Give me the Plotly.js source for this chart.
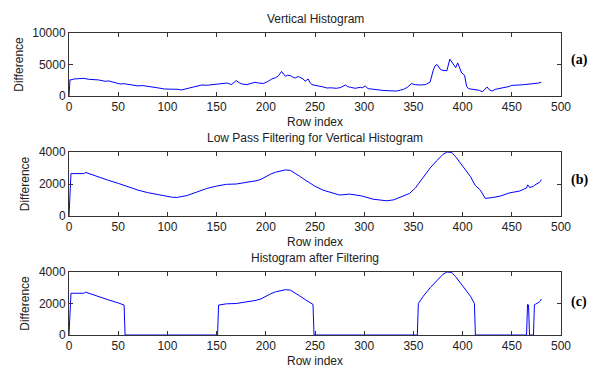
<!DOCTYPE html>
<html>
<head>
<meta charset="utf-8">
<script src="https://cdn.plot.ly/plotly-3.0.1.min.js"></script>
<style>html,body{margin:0;padding:0;background:#fff;}#chart{width:597px;height:370px;}</style>
</head>
<body>
<div id="chart"></div>
<script>
// (a) Vertical histogram (raw)
const rowsA = [0,1,2,5,10,15,20,25,30,37,40,45,52,56,60,65,70,75,80,84,90,97,105,111,114,118,125,130,135,140,145,150,155,160,162,165,170,173,176,181,185,189,193,198,202,206,210,213,216,218,220,222,225,228,230,233,235,238,240,243,245,247,250,255,258,262,266,272,276,281,283,286,291,296,298,301,304,308,313,318,323,328,333,337,340,344,348,352,356,362,367,370,372,374,377,379,384,387,391,393,395,397,399,402,404,406,410,413,417,420,423,425,427,430,433,437,440,443,447,450,454,457,462,467,470,474,477,480];
const diffA = [0,2600,2550,2700,2750,2800,2650,2600,2550,2330,2400,2200,1900,1950,1850,1800,1600,1650,1500,1380,1300,1110,1100,1060,950,1100,1380,1500,1750,1700,1800,1850,1900,2050,2000,1800,2450,2100,1900,1800,2000,2170,2050,2000,2300,2700,2900,3230,3900,3400,3120,3300,3230,2950,2860,3100,2960,2700,2330,2700,2100,1800,1700,1590,1450,1270,1300,1220,1350,1750,1500,1380,1220,1380,1300,1590,1160,1100,950,900,850,830,780,950,1050,1400,1960,1800,1750,1800,2200,4000,4800,5000,4300,4100,4000,5850,5050,4500,5250,4400,3660,3300,1550,1160,1100,1000,900,680,1100,1430,1000,790,1050,1160,1250,1320,1500,1690,1650,1740,1800,1850,1900,1960,2050,2200];

// (b) Low pass filtered histogram
const rowsB = [0,1,2,10,15,17,20,30,40,50,56,60,70,80,90,100,105,110,115,120,130,135,140,150,152,160,170,180,190,195,200,205,210,215,220,225,230,234,240,248,250,258,265,275,285,297,309,316,323,330,336,346,352,355,360,367,374,380,384,389,393,398,403,408,412,413,418,423,430,438,448,458,463,465,466,467,468,470,472,473,474,476,478,479,480];
const diffB = [0,1400,2650,2650,2650,2720,2650,2420,2230,2040,1900,1820,1620,1460,1330,1220,1170,1160,1200,1280,1500,1620,1720,1870,1900,1980,2000,2080,2200,2290,2460,2620,2740,2820,2880,2850,2670,2500,2250,1940,1860,1620,1480,1310,1370,1260,1050,990,950,1010,1160,1410,1750,2000,2460,3000,3470,3850,4000,3970,3700,3300,2900,2460,2000,1900,1620,1100,1150,1240,1450,1560,1700,1750,1940,1910,1780,1800,1850,1920,1950,2000,2100,2150,2280];

// (c) Histogram after filtering
const rowsC = [0,1,2,10,15,17,20,30,40,50,56,57,151,152,160,170,180,190,195,200,205,210,215,220,225,230,234,240,248,249,354,355,360,367,374,380,384,389,393,398,403,408,412,413,465,466,467,468,472,473,474,476,478,479,480];
const diffC = [0,1400,2650,2650,2650,2720,2650,2420,2230,2040,1900,0,0,1900,1980,2000,2080,2200,2290,2460,2620,2740,2820,2880,2850,2670,2500,2250,1940,0,0,2000,2460,3000,3470,3850,4000,3970,3700,3300,2900,2460,2000,0,0,1940,1910,0,0,1920,1950,2000,2100,2150,2280];

const titles = ["Vertical Histogram", "Low Pass Filtering for Vertical Histogram", "Histogram after Filtering"];
const panelLabels = ["(a)", "(b)", "(c)"];
const xTicks = [0,50,100,150,200,250,300,350,400,450,500];

const lineStyle = {color: 'rgb(0,0,255)', width: 1};
const traces = [
  {x: rowsA, y: diffA, type: 'scatter', mode: 'lines', line: lineStyle, xaxis: 'x', yaxis: 'y', hoverinfo: 'skip'},
  {x: rowsB, y: diffB, type: 'scatter', mode: 'lines', line: lineStyle, xaxis: 'x2', yaxis: 'y2', hoverinfo: 'skip'},
  {x: rowsC, y: diffC, type: 'scatter', mode: 'lines', line: lineStyle, xaxis: 'x3', yaxis: 'y3', hoverinfo: 'skip'}
];

const fnt = {family: 'Liberation Sans, Arial, sans-serif', size: 12, color: '#222'};
function xax(anchor) {
  return {
    anchor: anchor, domain: [0, 1], range: [0, 500], tickvals: xTicks,
    ticks: 'inside', ticklen: 4, tickcolor: '#333', showline: true, linecolor: '#333', linewidth: 1,
    mirror: 'ticks', showgrid: false, zeroline: false, tickfont: fnt,
    title: {text: 'Row index', font: fnt, standoff: 4}
  };
}
function yax(anchor, domain, maxv, step) {
  return {
    anchor: anchor, domain: domain, range: [0, maxv], dtick: step, tick0: 0, tickformat: 'd',
    ticks: 'inside', ticklen: 4, tickcolor: '#333', showline: true, linecolor: '#333', linewidth: 1,
    mirror: 'ticks', showgrid: false, zeroline: false, tickfont: fnt,
    title: {text: 'Difference', font: fnt, standoff: 6}
  };
}

const H = 302, T = 335;
function py(p) { return (T - p) / H; }

const annotations = [];
const titleY = [19, 138, 258];
const labelY = [60, 180, 302];
for (let i = 0; i < 3; i++) {
  annotations.push({text: titles[i], xref: 'paper', yref: 'paper', x: 0.5, y: py(titleY[i]), xanchor: 'center', yanchor: 'middle', showarrow: false, font: fnt});
  annotations.push({text: '<b>' + panelLabels[i] + '</b>', xref: 'paper', yref: 'paper', x: (579 - 69) / 492, y: py(labelY[i]), xanchor: 'center', yanchor: 'middle', showarrow: false, font: {family: 'Liberation Serif, Times New Roman, serif', size: 14, color: '#000'}});
}

const layout = {
  width: 597, height: 370,
  margin: {l: 69, r: 36, t: 33, b: 35},
  paper_bgcolor: '#fff', plot_bgcolor: '#fff',
  showlegend: false,
  xaxis: xax('y'), xaxis2: xax('y2'), xaxis3: xax('y3'),
  yaxis: yax('x', [py(96), 1], 10000, 5000),
  yaxis2: yax('x2', [py(216), py(152)], 4000, 2000),
  yaxis3: yax('x3', [0, py(272)], 4000, 2000),
  annotations: annotations
};

Plotly.newPlot('chart', traces, layout, {staticPlot: true, displayModeBar: false});
</script>
</body>
</html>
